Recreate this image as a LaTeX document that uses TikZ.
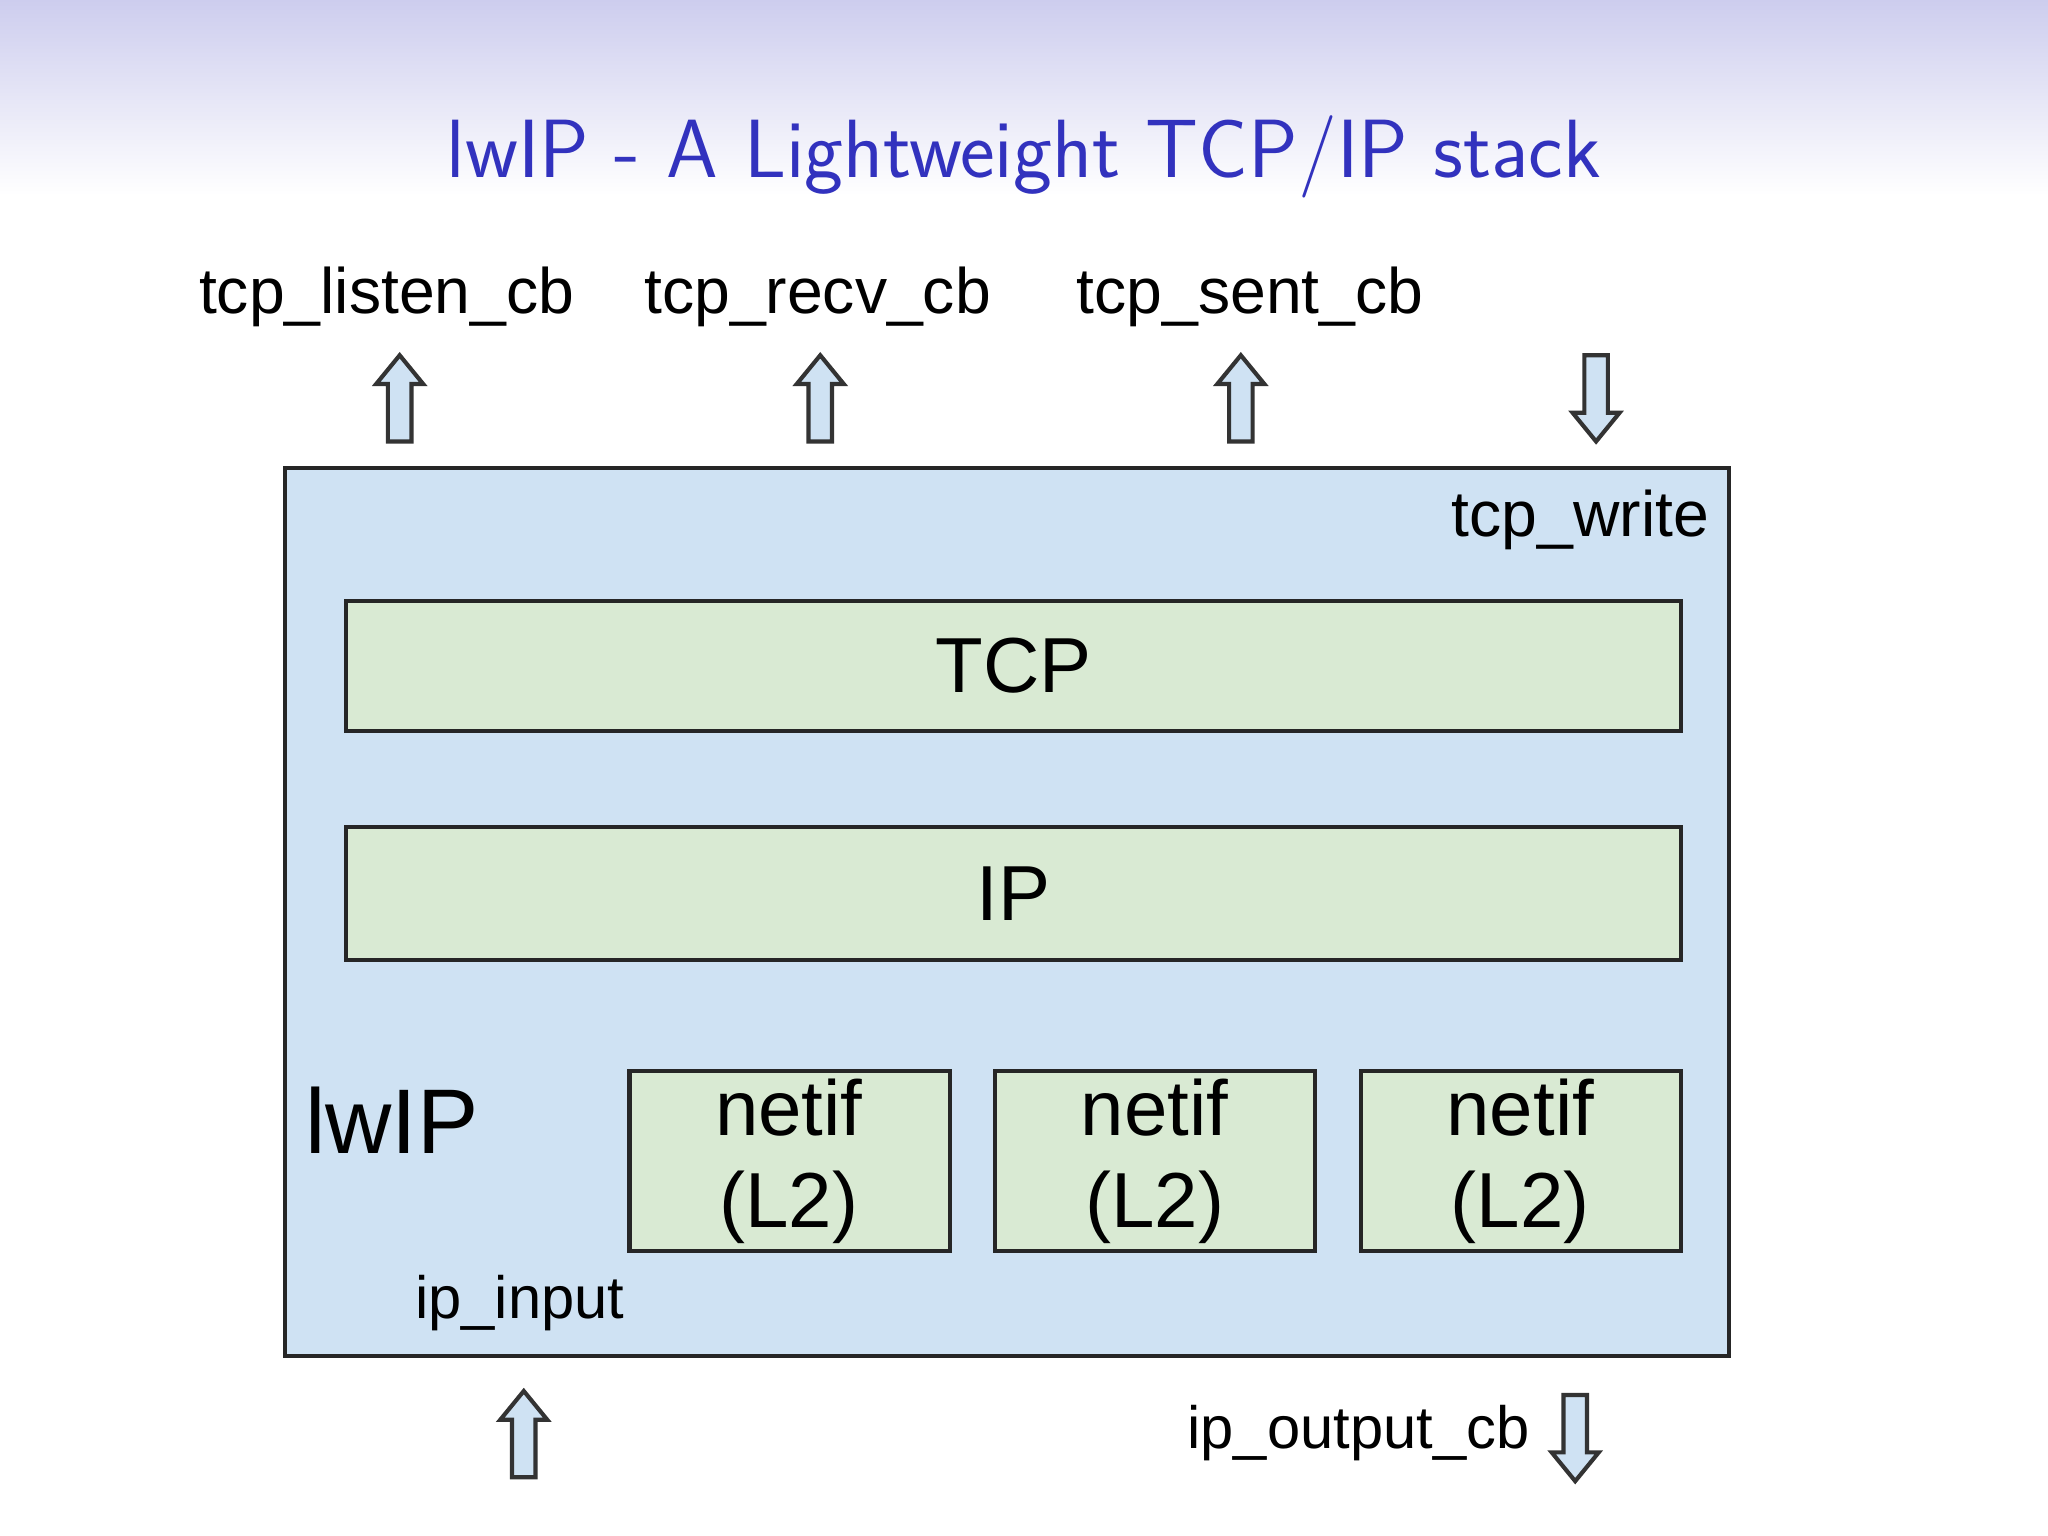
\documentclass[tikz,border=0pt]{standalone}
\usepackage{fontspec}
\newfontfamily\arialfont{Liberation Sans}
\usepackage{xcolor}
\definecolor{outerblue}{RGB}{207,226,243}
\definecolor{layergreen}{RGB}{217,234,211}
\definecolor{titleblue}{RGB}{50,50,190}
\definecolor{topband}{RGB}{205,205,238}
\begin{document}
\begin{tikzpicture}[x=1cm,y=-1cm,
    layer/.style={draw=black!85,line width=0.9pt,fill=layergreen},
    lbl/.style={font=\arialfont\fontsize{14}{16}\selectfont,inner sep=0pt},
    big/.style={font=\arialfont\fontsize{17}{20}\selectfont},
    arrfill/.style={draw=black!80,line width=0.9pt,fill=outerblue},
    uparr/.pic={\draw[arrfill] (-0.09,0)--(-0.09,-0.44)--(-0.18,-0.44)--(0,-0.66)--(0.18,-0.44)--(0.09,-0.44)--(0.09,0)--cycle;}]
\useasboundingbox (0,0) rectangle (15.68,11.76);
\shade[top color=topband,bottom color=white] (0,0) rectangle (15.68,1.5);
\node[font=\sffamily\fontsize{18}{22}\selectfont,text=titleblue] (title) at (7.84,1.2) {lwIP - A Lightweight TCP/IP stack};

% main block
\draw[layer,fill=outerblue] (2.18,3.58) rectangle (13.24,10.38);
\draw[layer] (2.65,4.60) rectangle (12.87,5.60);
\node[big] (tcp) at (7.76,5.10) {TCP};
\draw[layer] (2.65,6.33) rectangle (12.87,7.35);
\node[big] (ip) at (7.76,6.84) {IP};
\foreach \x/\n in {4.82/a, 7.62/b, 10.42/c}{
  \draw[layer] (\x,8.20) rectangle ++(2.45,1.38);
  \node[big,align=center] (netif\n) at (\x+1.22,8.89) {netif\\(L2)};
}
\node[font=\arialfont\fontsize{20}{24}\selectfont] (lwip) at (3.00,8.58) {lwIP};
\node[lbl] (write) at (12.10,3.98) {tcp\_write};
\node[lbl,font=\arialfont\fontsize{13}{15}\selectfont] (input) at (3.98,9.98) {ip\_input};

% callbacks
\node[lbl] (listen) at (2.96,2.27) {tcp\_listen\_cb};
\node[lbl] (recv) at (6.26,2.27) {tcp\_recv\_cb};
\node[lbl] (sent) at (9.57,2.27) {tcp\_sent\_cb};
\node[lbl,font=\arialfont\fontsize{13}{15}\selectfont] (output) at (10.40,10.97) {ip\_output\_cb};

\foreach \x in {3.06,6.28,9.50}{
  \pic at (\x,3.38) {uparr};
}
\pic[rotate=180] at (12.22,2.72) {uparr};
\pic at (4.01,11.31) {uparr};
\pic[rotate=180] at (12.06,10.68) {uparr};
\end{tikzpicture}
\end{document}
